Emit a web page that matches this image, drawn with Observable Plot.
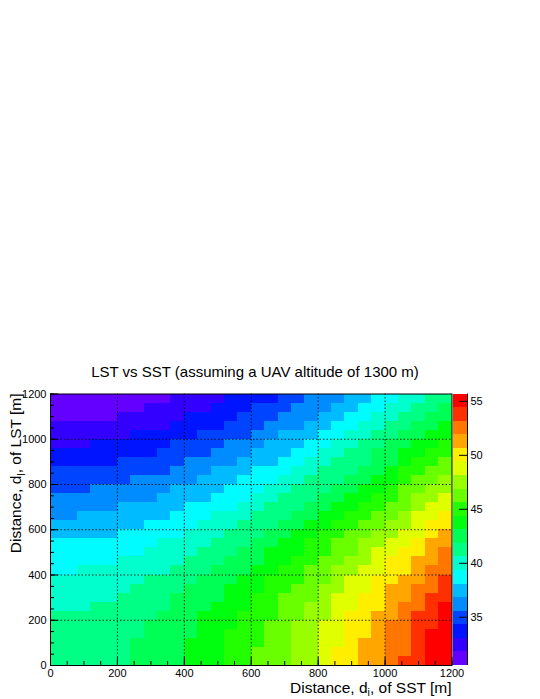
<!DOCTYPE html>
<html>
<head>
<meta charset="utf-8">
<script src="https://cdn.jsdelivr.net/npm/d3@7"></script>
<script src="https://cdn.jsdelivr.net/npm/@observablehq/plot@0.6"></script>
<style>
  html, body { margin: 0; padding: 0; background: #ffffff; }
  #chart { position: relative; width: 540px; height: 699px; overflow: hidden; }
  #chart svg { position: absolute; top: 0; overflow: visible; }
</style>
</head>
<body>
<div id="chart"></div>
<script>
// ---------------- data ----------------
const chartTitle = "LST vs SST (assuming a UAV altitude of 1300 m)";
const xTitleParts = ["Distance, d", "i", ", of SST [m]"];
const yTitleParts = ["Distance, d", "l", ", of LST [m]"];

// bin edges (30 x 30 bins of 40 m)
const binEdges = [0,40,80,120,160,200,240,280,320,360,400,440,480,520,560,600,
                  640,680,720,760,800,840,880,920,960,1000,1040,1080,1120,1160,1200];

const majorTicks = [0,200,400,600,800,1000,1200];
const minorTicks = [0,50,100,150,200,250,300,350,400,450,500,550,600,650,700,750,
                    800,850,900,950,1000,1050,1100,1150,1200];
const gridValues = [200,400,600,800,1000];

// colour-bar range and ticks
const zMin = 30.53;
const zMax = 55.68;
const zTicks = [35,40,45,50,55];

// 20 contour colours, violet (lowest) -> red (highest)
const palette = ["#6300ff","#3300ff","#0014ff","#0044ff","#008bff","#00bbff","#00fcff",
                 "#00ffcc","#00ff85","#00ff55","#00ff0e","#22ff00","#69ff00","#99ff00",
                 "#e0ff00","#ffee00","#ffa700","#ff7700","#ff3000","#ff0000"];

// colour level of every bin (0-9, A=10 ... J=19); first string = top row (LST 1160-1200 m),
// characters run left to right along SST 0 -> 1200 m
const levelRows = [
  "000000000111122223344455667788",
  "000000011111222333444556677889",
  "000001111122223334445566778899",
  "11111111122223334445566778899A",
  "1111112222233334455566778899AA",
  "111222222333344455566778899AAB",
  "22222222333344455566778899AABB",
  "22222333334444555667788899ABBC",
  "3333333334445556667788899ABBCC",
  "333333444445556667788899AABCCD",
  "33344444455556667788899AABCCDD",
  "4444444455556667788899AABBCDDE",
  "444445555566667788899AABBCCDEE",
  "44555555566677788899AABBCCDEEF",
  "5555555666677788899AABBCCDDEFF",
  "555556666677788899AABBCCDDEEFG",
  "66666666777788899AABBCCDDEEFGG",
  "6666666777788899AAABBCCDEEFFGH",
  "6666677777888999AABBCCDDEFFGGH",
  "667777777888999AABBCCDDEEFFGHH",
  "77777778888999AABBBCCDEEFFGGHI",
  "7777778888999AAABBCCDDEEFGGHHI",
  "7777788889999AABBCCCDEEFFGGHII",
  "777888888999AAABBCCDDEEFFGHHIJ",
  "88888888999AAABBBCCDDEFFGGHIIJ",
  "88888889999AAABBCCDDEEFFGHHIIJ",
  "88888889999AABBBCCDDEEFFGHHIJJ",
  "8888889999AAABBBCCDDEEFGGHHIJJ",
  "8888889999AAABBCCCDDEFFGGHHIJJ",
  "8888889999AAABBCCCDDEFFGGHIIJJ"
];

// ---------------- build tables ----------------
const nRows = levelRows.length;
const cells = [];
levelRows.forEach((row, r) => {
  const j = nRows - 1 - r;
  for (let i = 0; i < row.length; i++) {
    cells.push({x1: binEdges[i], x2: binEdges[i + 1], y1: binEdges[j], y2: binEdges[j + 1],
                level: parseInt(row[i], 20)});
  }
});
const levels = palette.map((_, k) => k);
const dz = (zMax - zMin) / palette.length;
const bands = levels.map(k => ({level: k, z1: zMin + k * dz, z2: zMin + (k + 1) * dz}));

const font = "'Liberation Sans', Arial, Helvetica, sans-serif";
const fmt = d => String(d);

// ---------------- main panel ----------------
const frameL = 50, frameR = 451.5, frameT = 393.5, frameB = 665;
const main = Plot.plot({
  width: 540, height: 699,
  marginLeft: frameL, marginRight: 540 - frameR, marginTop: frameT, marginBottom: 699 - frameB,
  style: {fontFamily: font, fontSize: "11px", background: "transparent", color: "black"},
  x: {domain: [0, 1200]},
  y: {domain: [0, 1200]},
  color: {type: "ordinal", domain: levels, range: palette},
  marks: [
    Plot.rect(cells, {x1: "x1", x2: "x2", y1: "y1", y2: "y2", fill: "level", inset: 0, shapeRendering: "crispEdges"}),
    Plot.gridX(gridValues, {stroke: "black", strokeOpacity: 0.85, strokeWidth: 1, strokeDasharray: "1.5,2"}),
    Plot.gridY(gridValues, {stroke: "black", strokeOpacity: 0.85, strokeWidth: 1, strokeDasharray: "1.5,2"}),
    Plot.axisX(minorTicks, {tickSize: 4, dy: -4, fill: "none", label: null}),
    Plot.axisX(majorTicks, {tickSize: 8, dy: -8, fill: "none", label: null}),
    Plot.axisX(majorTicks, {tickSize: 0, tickPadding: 4, tickFormat: fmt, label: null}),
    Plot.axisY(minorTicks, {tickSize: 4, dx: 4, fill: "none", label: null}),
    Plot.axisY(majorTicks, {tickSize: 8, dx: 8, fill: "none", label: null}),
    Plot.axisY(majorTicks, {tickSize: 0, tickPadding: 4, tickFormat: fmt, label: null}),
    Plot.frame({stroke: "black", strokeWidth: 1})
  ]
});

// ---------------- colour bar ----------------
const barL = 452.5, barR = 466.5;
const bar = Plot.plot({
  width: 540 - barL, height: 699,
  marginLeft: 0, marginRight: 540 - barR, marginTop: frameT, marginBottom: 699 - frameB,
  style: {fontFamily: font, fontSize: "11px", background: "transparent", color: "black"},
  x: {domain: [0, 1], axis: null},
  y: {domain: [zMin, zMax]},
  color: {type: "ordinal", domain: levels, range: palette},
  marks: [
    Plot.rect(bands, {x1: 0, x2: 1, y1: "z1", y2: "z2", fill: "level", inset: 0, shapeRendering: "crispEdges"}),
    Plot.axisY(zTicks, {anchor: "right", tickSize: 9, dx: -9, fill: "none", label: null}),
    Plot.axisY(zTicks, {anchor: "right", tickSize: 0, tickPadding: 3, tickFormat: fmt, label: null}),
    Plot.ruleX([1], {stroke: "black"})
  ]
});

const host = document.getElementById("chart");
main.style.left = "0px";
bar.style.left = barL + "px";
host.appendChild(main);
host.appendChild(bar);

// ---------------- titles (real text, with subscripts) ----------------
const svg = d3.select(main);
svg.append("text")
  .attr("x", 255).attr("y", 377)
  .attr("text-anchor", "middle")
  .attr("font-family", font).attr("font-size", 15)
  .attr("fill", "black")
  .text(chartTitle);

function subTitle(sel, parts) {
  sel.append("tspan").text(parts[0]);
  sel.append("tspan").attr("font-size", 10.5).attr("dy", 3.5).text(parts[1]);
  sel.append("tspan").attr("dy", -3.5).text(parts[2]);
}
const xt = svg.append("text")
  .attr("x", frameR).attr("y", 692.5)
  .attr("text-anchor", "end")
  .attr("font-family", font).attr("font-size", 15.5).attr("fill", "black");
subTitle(xt, xTitleParts);

const yt = svg.append("text")
  .attr("transform", `translate(21,${frameT}) rotate(-90)`)
  .attr("text-anchor", "end")
  .attr("font-family", font).attr("font-size", 15.5).attr("fill", "black");
subTitle(yt, yTitleParts);
</script>
</body>
</html>
